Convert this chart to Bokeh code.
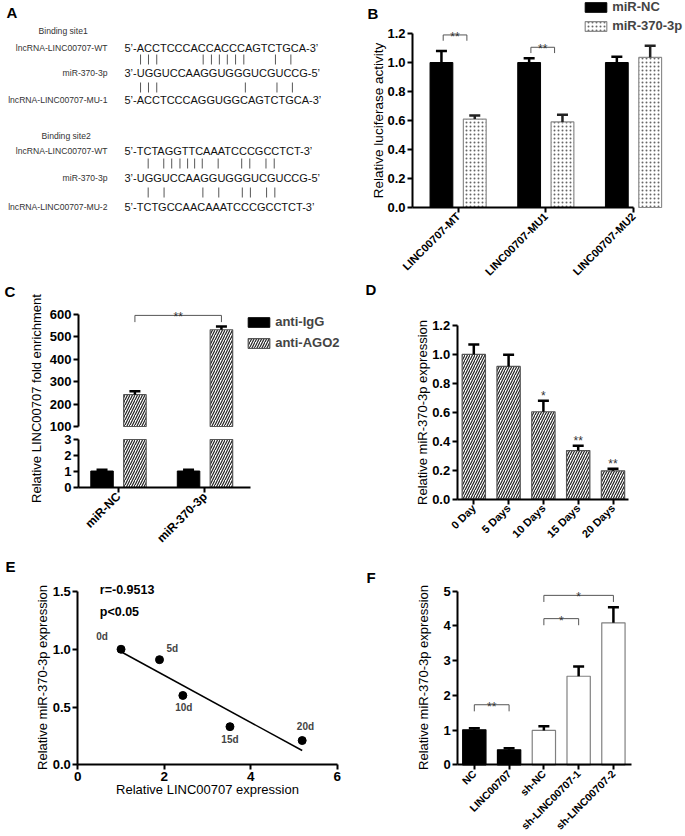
import math
import numpy as np
from bokeh.plotting import figure
from bokeh.models import (Range1d, FixedTicker, NumeralTickFormatter, Label, LabelSet,
                          ColumnDataSource, Legend, LegendItem, LinearAxis)
from bokeh.layouts import row, column
from bokeh.core.properties import value
from bokeh.embed import file_html
from bokeh.resources import INLINE

FONT = "Liberation Sans"

# ---------------- data ----------------
# Panel A
site_titles = ["Binding site1", "Binding site2"]
row_names = [["lncRNA-LINC00707-WT", "miR-370-3p", "lncRNA-LINC00707-MU-1"],
             ["lncRNA-LINC00707-WT", "miR-370-3p", "lncRNA-LINC00707-MU-2"]]
seqs = [["5’-ACCTCCCACCACCCAGTCTGCA-3’", "3’-UGGUCCAAGGUGGGUCGUCCG-5’", "5’-ACCTCCCAGGUGGCAGTCTGCA-3’"],
        ["5’-TCTAGGTTCAAATCCCGCCTCT-3’", "3’-UGGUCCAAGGUGGGUCGUCCG-5’", "5’-TCTGCCAACAAATCCCGCCTCT-3’"]]
pair_idx = [[[0, 1, 2, 8, 9, 10, 11, 12, 13, 17, 19], [0, 1, 2, 13, 17, 19]],
            [[1, 3, 4, 5, 6, 7, 8, 10, 13, 14, 16, 17], [1, 3, 8, 10, 13, 14, 16, 17]]]

# Panel B
b_groups = ["LINC00707-MT", "LINC00707-MU1", "LINC00707-MU2"]
b_series = ["miR-NC", "miR-370-3p"]
b_nc = [1.00, 1.00, 1.00]
b_nc_err = [0.08, 0.03, 0.04]
b_mir = [0.61, 0.59, 1.035]
b_mir_err = [0.025, 0.05, 0.08]
b_sig = ["**", "**", ""]

# Panel C
c_groups = ["miR-NC", "miR-370-3p"]
c_series = ["anti-IgG", "anti-AGO2"]
c_igg = [1.03, 1.03]
c_igg_err = [0.08, 0.08]
c_ago2 = [242, 532]
c_ago2_err = [15, 14]
c_sig = "**"

# Panel D
d_days = ["0 Day", "5 Days", "10 Days", "15 Days", "20 Days"]
d_vals = [1.00, 0.917, 0.604, 0.336, 0.196]
d_err = [0.069, 0.081, 0.076, 0.033, 0.014]
d_sig = ["", "", "*", "**", "**"]

# Panel E
e_linc = [1.00, 1.89, 2.43, 3.52, 5.19]
e_mir = [1.00, 0.91, 0.60, 0.33, 0.21]
e_tags = ["0d", "5d", "10d", "15d", "20d"]
e_stats = ["r=-0.9513", "p<0.05"]

# Panel F
f_groups = ["NC", "LINC00707", "sh-NC", "sh-LINC00707-1", "sh-LINC00707-2"]
f_vals = [1.01, 0.43, 0.99, 2.55, 4.09]
f_err = [0.045, 0.05, 0.12, 0.28, 0.45]
f_pairs = [(0, 1), (2, 3), (2, 4)]
f_sig = ["**", "*", "*"]

HATCH = dict(fill_color="white", line_color="#555555", line_width=1.2, hatch_pattern="/",
             hatch_color="#222222", hatch_scale=5, hatch_weight=1.2)


# ---------------- layout helpers ----------------
def lin(p0, p1, v0, v1):
    """page pixel -> data value, linear through (p0 -> v0), (p1 -> v1)."""
    return lambda px: v0 + (px - p0) / (p1 - p0) * (v1 - v0)


def make_fig(canvas, frame, xr, yr, xaxis=True, yaxis=True):
    """canvas: page rect of the figure; frame: page rect of the axes box (x0,y0,x1,y1)."""
    cx0, cy0, cx1, cy1 = canvas
    fx0, fy0, fx1, fy1 = frame
    xd = lin(fx0, fx1, xr[0], xr[1])
    yd = lin(fy1, fy0, yr[0], yr[1])
    p = figure(width=cx1 - cx0, height=cy1 - cy0,
               x_range=Range1d(xd(cx0), xd(cx1)), y_range=Range1d(yd(cy1), yd(cy0)),
               min_border=0, min_border_left=0, min_border_right=0, min_border_top=0,
               min_border_bottom=0,
               x_axis_location="below" if xaxis else None,
               y_axis_location="left" if yaxis else None,
               output_backend="svg", toolbar_location=None, tools="", title=None)
    p.outline_line_color = None
    p.xgrid.visible = False
    p.ygrid.visible = False
    p.background_fill_color = "white"
    p.border_fill_color = "white"
    if xaxis:
        p.xaxis[0].fixed_location = yr[0]
        p.xaxis[0].bounds = tuple(xr)
    if yaxis:
        p.yaxis[0].fixed_location = xr[0]
        p.yaxis[0].bounds = tuple(yr)

    def to_data(rx, ry):
        return xd(rx), yd(ry)

    def leg_loc(rx, ry_bottom):
        return (rx - cx0, cy1 - ry_bottom)

    return p, to_data, leg_loc


def style_axes(p, xsize="11px", ysize="13px"):
    for ax in p.axis:
        ax.axis_line_width = 2
        ax.axis_line_color = "black"
        ax.major_tick_line_width = 2
        ax.major_tick_line_color = "black"
        ax.major_tick_out = 5
        ax.major_tick_in = 0
        ax.minor_tick_line_color = None
        ax.major_label_text_font = FONT
        ax.major_label_text_font_style = "bold"
        ax.major_label_text_color = "black"
        ax.major_label_standoff = 2
    for ax in p.xaxis:
        ax.major_label_text_font_size = xsize
    for ax in p.yaxis:
        ax.major_label_text_font_size = ysize


def cat_axis(p, labels, bounds=None, angle=math.pi / 4):
    ax = p.xaxis[0]
    ax.ticker = FixedTicker(ticks=list(range(len(labels))))
    ax.major_label_overrides = {i: s for i, s in enumerate(labels)}
    ax.major_label_orientation = angle
    if bounds is not None:
        ax.bounds = bounds


def lab(p, xy, text, size, bold=False, align="left", baseline="middle", angle=0.0,
        color="black", y_offset=0, yrn="default"):
    p.add_layout(Label(x=xy[0], y=xy[1], text=text, text_font=FONT, text_font_size=f"{size}px",
                       text_font_style="bold" if bold else "normal", text_align=align,
                       text_baseline=baseline, angle=angle, text_color=color, y_offset=y_offset,
                       y_range_name=yrn))


def err_bars(p, xs, vals, errs, color="black", cap=11, yrn="default"):
    tops = [v + e for v, e in zip(vals, errs)]
    p.segment(x0=list(xs), y0=vals, x1=list(xs), y1=tops, line_color=color, line_width=2.5,
              y_range_name=yrn)
    p.scatter(x=list(xs), y=tops, marker="dash", size=cap, line_color=color, line_width=2.5,
              y_range_name=yrn)


def brackets(p, lefts, rights, tops, drop, sigs, size=12, yrn="default"):
    xs = [[l, l, r, r] for l, r in zip(lefts, rights)]
    ys = [[t - drop, t, t, t - drop] for t in tops]
    p.multi_line(xs=xs, ys=ys, line_color="#555555", line_width=1, y_range_name=yrn)
    for l, r, t, s in zip(lefts, rights, tops, sigs):
        lab(p, ((l + r) / 2, t), s, size, align="center", baseline="alphabetic",
            color="#333333", y_offset=-2, yrn=yrn)


def legend(items, loc, spacing):
    return Legend(items=items, location=loc, orientation="vertical", padding=0, margin=0,
                  spacing=spacing, glyph_width=27, glyph_height=12, label_height=12,
                  label_standoff=3, border_line_color=None, background_fill_alpha=0,
                  label_text_font=FONT, label_text_font_style="bold", label_text_font_size="13px")


# ---------------- Panel A ----------------
WID = {"A": .667, "C": .722, "G": .778, "T": .611, "U": .722, "5": .556, "3": .556,
       "’": .222, "-": .333}
FS = 11.0
SEQ_X0 = 124
NAME_X = 107
row_y = [[47, 72.7, 99], [150.7, 177.7, 206]]
bar_y = [[(54, 64), (82, 92)], [(158, 168), (187, 197)]]
title_xy = [(38, 30), (41, 135)]


def centers(s):
    out, x = [], SEQ_X0
    for ch in s:
        w = WID[ch] * FS
        out.append(x + w / 2)
        x += w
    return out


pA, tA, _ = make_fig((0, 0, 340, 280), (0, 0, 340, 280), (0, 340), (0, 280),
                     xaxis=False, yaxis=False)

tx, ty, tt = [], [], []
nx, ny, nt = [], [], []
qx, qy, qt = [], [], []
bx, by0, by1 = [], [], []
for k in range(2):
    x, y = tA(*title_xy[k]); tx.append(x); ty.append(y); tt.append(site_titles[k])
    for j in range(3):
        x, y = tA(NAME_X, row_y[k][j]); nx.append(x); ny.append(y); nt.append(row_names[k][j])
        x, y = tA(SEQ_X0, row_y[k][j]); qx.append(x); qy.append(y); qt.append(seqs[k][j])
    for j in range(2):
        ca = centers(seqs[k][j])
        cb = centers(seqs[k][j + 1])
        for i in pair_idx[k][j]:
            xx, y0 = tA((ca[3 + i] + cb[3 + i]) / 2, bar_y[k][j][0])
            _, y1 = tA(0, bar_y[k][j][1])
            bx.append(xx); by0.append(y0); by1.append(y1)

pA.text(x=tx, y=ty, text=tt, text_font=value(FONT), text_font_size=value("8.6px"),
        text_align="left", text_baseline="middle", text_color="#333333")
pA.text(x=nx, y=ny, text=nt, text_font=value(FONT), text_font_size=value("8.6px"),
        text_align="right", text_baseline="middle", text_color="#333333")
pA.text(x=qx, y=qy, text=qt, text_font=value(FONT), text_font_size=value(f"{FS}px"),
        text_align="left", text_baseline="middle", text_color="#111111")
pA.segment(x0=bx, y0=by0, x1=bx, y1=by1, line_color="#444444", line_width=0.9)
lab(pA, tA(6, 12), "A", 15, bold=True)

# ---------------- Panel B ----------------
pB, tB, lB = make_fig((340, 0, 685, 280), (412, 33, 683, 207), (-0.52, 2.57), (0, 1.2))
OFF, BW = 0.19, 0.26
xg = np.arange(len(b_groups))
r_nc = pB.vbar(x=xg - OFF, top=b_nc, width=BW, fill_color="black", line_color="black")
r_mir = pB.vbar(x=xg + OFF, top=b_mir, width=BW, fill_color="white", line_color="#8c8c8c",
                line_width=1.2, hatch_pattern="dot", hatch_color="#666666", hatch_scale=4,
                hatch_weight=1)
err_bars(pB, xg - OFF, b_nc, b_nc_err)
err_bars(pB, xg + OFF, b_mir, b_mir_err, color="#222222")
bi = [i for i, s in enumerate(b_sig) if s]
brackets(pB, [i - 0.17 for i in bi], [i + 0.10 for i in bi], [1.19, 1.105], 0.04,
         [b_sig[i] for i in bi])
pB.add_layout(legend([LegendItem(label=b_series[0], renderers=[r_nc]),
                      LegendItem(label=b_series[1], renderers=[r_mir])], lB(582.2, 33), 4))
style_axes(pB, xsize="11px")
cat_axis(pB, b_groups, bounds=(-0.52, 2.0))
pB.yaxis[0].ticker = FixedTicker(ticks=[0, 0.2, 0.4, 0.6, 0.8, 1.0, 1.2])
pB.yaxis[0].formatter = NumeralTickFormatter(format="0.0")
lab(pB, tB(378, 120), "Relative luciferase activity", 13.5, align="center", angle=math.pi / 2)
lab(pB, tB(367, 12.5), "B", 15, bold=True)

# ---------------- Panel C (broken y axis: lower 0-3, upper 100-600) ----------------
XC = (-0.462, 1.526)
C_CANVAS = (0, 280, 340, 555)
pC, tC, lC = make_fig(C_CANVAS, (78, 439, 250, 487), XC, (0, 3))
YU = (100, 600)
yu_of = lin(426, 314, YU[0], YU[1])
pC.extra_y_ranges = {"upper": Range1d(yu_of(C_CANVAS[3]), yu_of(C_CANVAS[1]))}
ax_u = LinearAxis(y_range_name="upper", fixed_location=XC[0], bounds=YU,
                  ticker=FixedTicker(ticks=[100, 200, 300, 400, 500, 600]))
pC.add_layout(ax_u, "left")
xc = np.arange(len(c_groups))
# lower segment
r1 = pC.vbar(x=xc - OFF, top=c_igg, width=BW, fill_color="black", line_color="black")
pC.vbar(x=xc + OFF, top=[min(v, 3) for v in c_ago2], width=BW, **HATCH)
err_bars(pC, xc - OFF, c_igg, c_igg_err)
# upper segment
r2 = pC.vbar(x=xc + OFF, top=c_ago2, bottom=YU[0], width=BW, y_range_name="upper", **HATCH)
err_bars(pC, xc + OFF, c_ago2, c_ago2_err, yrn="upper")
brackets(pC, [0 + OFF], [1 + OFF], [596], 30, [c_sig], yrn="upper")
pC.add_layout(legend([LegendItem(label=c_series[0], renderers=[r1]),
                      LegendItem(label=c_series[1], renderers=[r2])], lC(245.2, 350), 6))
style_axes(pC, xsize="12px")
pC.yaxis[0].ticker = FixedTicker(ticks=[0, 1, 2, 3])
cat_axis(pC, c_groups, bounds=XC)
lab(pC, tC(36, 398), "Relative LINC00707 fold enrichment", 13, align="center",
    angle=math.pi / 2)
lab(pC, tC(4, 291), "C", 15, bold=True)

# ---------------- Panel D ----------------
pD, tD, lD = make_fig((340, 280, 685, 555), (456.7, 325, 628.3, 498.7), (-0.477, 4.454), (0, 1.2))
xd_ = np.arange(len(d_days))
pD.vbar(x=xd_, top=d_vals, width=0.67, **HATCH)
err_bars(pD, xd_, d_vals, d_err)
srcD = ColumnDataSource(dict(x=xd_, y=[v + e for v, e in zip(d_vals, d_err)], t=d_sig))
pD.add_layout(LabelSet(x="x", y="y", text="t", source=srcD, y_offset=1,
                       text_align="center", text_baseline="alphabetic",
                       text_font=value(FONT), text_font_size=value("12px"),
                       text_color="#333333"))
style_axes(pD, xsize="11px")
cat_axis(pD, d_days)
pD.yaxis[0].ticker = FixedTicker(ticks=[0, 0.2, 0.4, 0.6, 0.8, 1.0, 1.2])
pD.yaxis[0].formatter = NumeralTickFormatter(format="0.0")
lab(pD, tD(422, 412), "Relative miR-370-3p expression", 13, align="center", angle=math.pi / 2)
lab(pD, tD(365, 289), "D", 15, bold=True)

# ---------------- Panel E ----------------
pE, tE, lE = make_fig((0, 555, 342, 836), (77.3, 591, 336.7, 764.3), (0, 6), (0, 1.5))
slope, intercept = np.polyfit(e_linc, e_mir, 1)
xfit = np.array([min(e_linc), max(e_linc)])
pE.line(x=xfit, y=slope * xfit + intercept, line_color="black", line_width=1.5)
pE.scatter(x=e_linc, y=e_mir, size=8, fill_color="black", line_color="black")
tag_dx = [-19, 12.7, 1, 0, 3.3]
tag_dy = [13, 10.7, -11.7, -13, 14]
srcE = ColumnDataSource(dict(x=e_linc, y=e_mir, t=e_tags, dx=tag_dx, dy=tag_dy))
pE.add_layout(LabelSet(x="x", y="y", text="t", x_offset="dx", y_offset="dy", source=srcE,
                       text_align="center", text_baseline="middle", text_font=value(FONT),
                       text_font_style=value("bold"), text_font_size=value("10px")))
lab(pE, tE(99.3, 589.3), e_stats[0], 12.5, bold=True)
lab(pE, tE(99.3, 611.7), e_stats[1], 12.5, bold=True)
style_axes(pE, xsize="13.5px")
pE.xaxis[0].ticker = FixedTicker(ticks=[0, 2, 4, 6])
pE.yaxis[0].ticker = FixedTicker(ticks=[0, 0.5, 1.0, 1.5])
pE.yaxis[0].formatter = NumeralTickFormatter(format="0.0")
lab(pE, tE(207, 789), "Relative LINC00707 expression", 13, align="center")
lab(pE, tE(41.7, 677), "Relative miR-370-3p expression", 13, align="center", angle=math.pi / 2)
lab(pE, tE(5, 566), "E", 15, bold=True)

# ---------------- Panel F ----------------
pF, tF, lF = make_fig((342, 555, 685, 836), (457.3, 590.7, 631, 764.3), (-0.475, 4.52), (0, 5))
xf = np.arange(len(f_groups))
f_fill = ["black", "black", "white", "white", "white"]
f_line = ["black", "black", "#808080", "#808080", "#808080"]
pF.vbar(x=xf, top=f_vals, width=0.67, fill_color=f_fill, line_color=f_line, line_width=1.2)
err_bars(pF, xf, f_vals, f_err)
brackets(pF, [a for a, b in f_pairs], [b for a, b in f_pairs], [1.73, 4.21, 4.88], 0.19, f_sig)
style_axes(pF, xsize="10.5px")
cat_axis(pF, f_groups)
pF.yaxis[0].ticker = FixedTicker(ticks=[0, 1, 2, 3, 4, 5])
lab(pF, tF(423, 677), "Relative miR-370-3p expression", 13, align="center", angle=math.pi / 2)
lab(pF, tF(366, 577), "F", 15, bold=True)

layout = column(row(pA, pB), row(pC, pD), row(pE, pF))
open("out.html", "w").write(file_html(layout, INLINE))
